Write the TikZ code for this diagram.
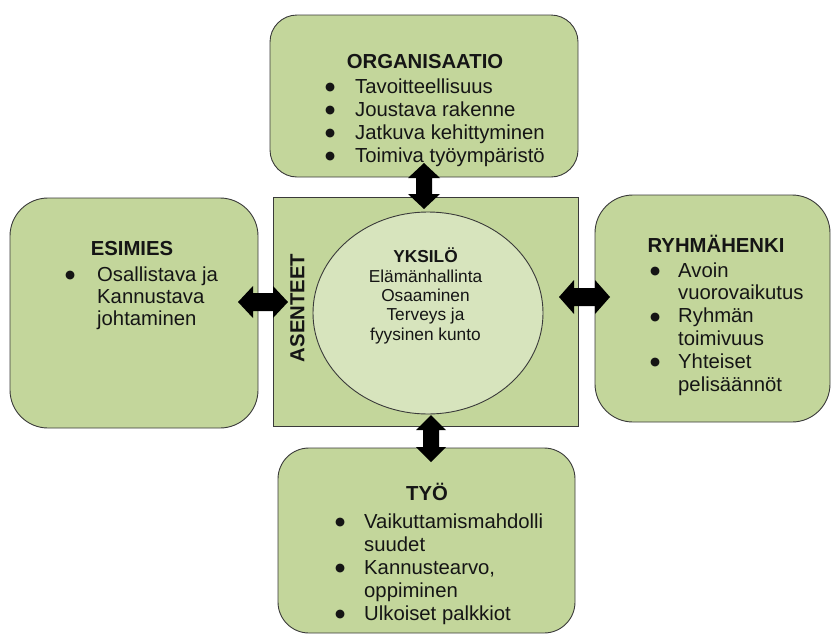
\documentclass[tikz,border=0pt]{standalone}
\usepackage{fontspec}
\usetikzlibrary{shapes.geometric}
\setmainfont{Liberation Sans}
\newfontfamily\dejavu{DejaVu Sans}
\definecolor{boxgreen}{HTML}{C3D69B}
\definecolor{ellgreen}{HTML}{D7E4BD}
\definecolor{edgec}{HTML}{3A3A3A}
\definecolor{ink}{HTML}{151515}
\newcommand\bul[1]{\makebox[#1][l]{\raisebox{2.6pt}{\dejavu\fontsize{11.5}{11.5}\selectfont ●}}}
\begin{document}
\begin{tikzpicture}[x=1pt,y=-1pt,
  rbox/.style={draw=edgec, line width=0.9pt, fill=boxgreen, inner sep=0pt},
  main/.style={font=\fontsize{20.3}{23}\selectfont, text=ink, inner sep=0pt},
  ttl/.style={font=\bfseries\fontsize{20.3}{23}\selectfont, text=ink, inner sep=0pt, anchor=base},
  lst/.style={main, anchor=base west},
  blockarrow/.style={fill=black}
]
\useasboundingbox (0,0) rectangle (832,635);

% outer boxes
\node[rbox, rounded corners=27pt, minimum width=308pt, minimum height=162pt] (org) at (424,96) {};
\node[rbox, rounded corners=38pt, minimum width=248pt, minimum height=230pt] (esi) at (134,313) {};
\node[rbox, rounded corners=38pt, minimum width=235pt, minimum height=227pt] (ryh) at (712.5,308.5) {};
\node[rbox, rounded corners=31pt, minimum width=297pt, minimum height=185pt] (tyo) at (426.5,540.5) {};

% centre square and ellipse
\node[rbox, minimum width=305pt, minimum height=229pt] (sq) at (425.5,311.5) {};
\node[draw=edgec, line width=0.9pt, fill=ellgreen, ellipse, minimum width=230pt, minimum height=202pt, inner sep=0pt] (ell) at (428,313) {};

% texts
\node[ttl] (orgt) at (425,68) {ORGANISAATIO};
\node[lst] (orgl) at (325,93) {\parbox[t]{250pt}{\raggedright
  \bul{30pt}Tavoitteellisuus\\
  \bul{30pt}Joustava rakenne\\
  \bul{30pt}Jatkuva kehittyminen\\
  \bul{30pt}Toimiva työympäristö}};

\node[ttl] (esit) at (132,255) {ESIMIES};
\node[main, anchor=base west, font=\fontsize{20.3}{22}\selectfont] (esil) at (65,281) {\parbox[t]{180pt}{\raggedright
  \bul{32pt}Osallistava ja\\
  \hspace*{32pt}Kannustava\\
  \hspace*{32pt}johtaminen}};

\node[ttl] (ryht) at (716,252) {RYHMÄHENKI};
\node[main, anchor=base west, font=\fontsize{20.3}{22.8}\selectfont] (ryhl) at (650,277) {\parbox[t]{180pt}{\raggedright
  \bul{28pt}Avoin\\
  \hspace*{28pt}vuorovaikutus\\
  \bul{28pt}Ryhmän\\
  \hspace*{28pt}toimivuus\\
  \bul{28pt}Yhteiset\\
  \hspace*{28pt}pelisäännöt}};

\node[ttl] (tyot) at (427,500) {TYÖ};
\node[lst] (tyol) at (335,528) {\parbox[t]{250pt}{\raggedright
  \bul{29pt}Vaikuttamismahdolli\\
  \hspace*{29pt}suudet\\
  \bul{29pt}Kannustearvo,\\
  \hspace*{29pt}oppiminen\\
  \bul{29pt}Ulkoiset palkkiot}};

\node[ttl, anchor=center, rotate=90] (asen) at (297.5,308) {ASENTEET};

\node[text=ink, inner sep=0pt, anchor=north, align=center, font=\fontsize{17.3}{19.3}\selectfont] (yks) at (425.5,248)
  {\textbf{YKSILÖ}\\ Elämänhallinta\\ Osaaminen\\ Terveys ja\\ fyysinen kunto};

% block double arrows
\coordinate (a1) at (424,163); \coordinate (a1e) at (424,209);
\fill[blockarrow] (a1) -- ++(16,15) -- ++(-8,0) -- ++(0,16) -- ++(8,0) -- (a1e)
  -- ++(-16,-15) -- ++(8,0) -- ++(0,-16) -- ++(-8,0) -- cycle;

\coordinate (a2) at (238,302); \coordinate (a2e) at (288,302);
\fill[blockarrow] (a2) -- ++(15,-16) -- ++(0,7) -- ++(20,0) -- ++(0,-7) -- (a2e)
  -- ++(-15,16) -- ++(0,-7) -- ++(-20,0) -- ++(0,7) -- cycle;

\coordinate (a3) at (559,297); \coordinate (a3e) at (610,297);
\fill[blockarrow] (a3) -- ++(15,-17) -- ++(0,8) -- ++(21,0) -- ++(0,-8) -- (a3e)
  -- ++(-15,17) -- ++(0,-8) -- ++(-21,0) -- ++(0,8) -- cycle;

\coordinate (a4) at (431,415); \coordinate (a4e) at (431,462);
\fill[blockarrow] (a4) -- ++(15,15) -- ++(-7,0) -- ++(0,17) -- ++(7,0) -- (a4e)
  -- ++(-15,-15) -- ++(7,0) -- ++(0,-17) -- ++(-7,0) -- cycle;
\end{tikzpicture}
\end{document}
